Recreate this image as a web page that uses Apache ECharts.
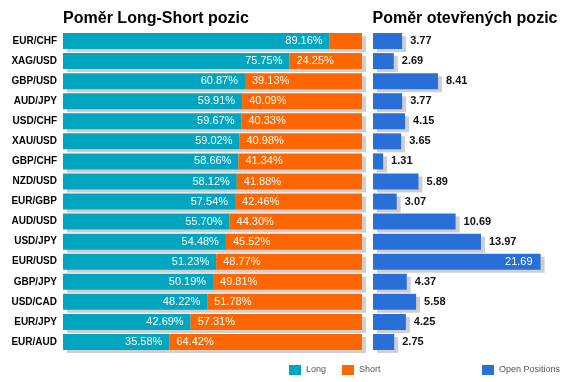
<!DOCTYPE html>
<html><head><meta charset="utf-8">
<script src="https://cdn.jsdelivr.net/npm/echarts@6/dist/echarts.min.js"></script>
<style>html,body{margin:0;padding:0;background:#fff}#c{width:571px;height:382px}</style>
</head><body><div id="c"></div>
<script>
const categories = ['EUR/CHF','XAG/USD','GBP/USD','AUD/JPY','USD/CHF','XAU/USD','GBP/CHF','NZD/USD','EUR/GBP','AUD/USD','USD/JPY','EUR/USD','GBP/JPY','USD/CAD','EUR/JPY','EUR/AUD'];
const longVals = [89.16,75.75,60.87,59.91,59.67,59.02,58.66,58.12,57.54,55.70,54.48,51.23,50.19,48.22,42.69,35.58];
const shortVals = [10.84,24.25,39.13,40.09,40.33,40.98,41.34,41.88,42.46,44.30,45.52,48.77,49.81,51.78,57.31,64.42];
const openVals = [3.77,2.69,8.41,3.77,4.15,3.65,1.31,5.89,3.07,10.69,13.97,21.69,4.37,5.58,4.25,2.75];

const FONT = '"Liberation Sans", Arial, sans-serif';
const shadow = {shadowColor:'#cfcfcf', shadowBlur:0, shadowOffsetX:4, shadowOffsetY:3};
const chart = echarts.init(document.getElementById('c'));
chart.setOption({
  backgroundColor:'#fff',
  animation:false,
  textStyle:{fontFamily:FONT},
  title:[
    {text:'Poměr Long-Short pozic', left:151, top:6, textAlign:'center', textStyle:{fontSize:16,fontWeight:'bold',color:'#000',fontFamily:FONT}},
    {text:'Poměr otevřených pozic', left:460, top:6, textAlign:'center', textStyle:{fontSize:16,fontWeight:'bold',color:'#000',fontFamily:FONT}}
  ],
  legend:[
    {data:['Long','Short'], left:284, top:360, itemWidth:12, itemHeight:10, itemGap:16, icon:'rect', textStyle:{fontSize:9,color:'#555',fontFamily:FONT}},
    {data:['Open Positions'], left:477, top:360, itemWidth:12, itemHeight:10, icon:'rect', textStyle:{fontSize:9,color:'#555',fontFamily:FONT}}
  ],
  grid:[
    {left:63, right:209, top:31, height:321},
    {left:373, right:28, top:31, height:321}
  ],
  xAxis:[
    {gridIndex:0, type:'value', min:0, max:100, show:false},
    {gridIndex:1, type:'value', min:0, max:22, show:false}
  ],
  yAxis:[
    {gridIndex:0, type:'category', data:categories, inverse:true, axisLine:{show:false}, axisTick:{show:false},
     axisLabel:{fontSize:10, fontWeight:'bold', color:'#000', margin:6, fontFamily:FONT}},
    {gridIndex:1, type:'category', data:categories, inverse:true, show:false}
  ],
  series:[
    {name:'Long', type:'bar', stack:'ls', xAxisIndex:0, yAxisIndex:0, data:longVals, barWidth:16,
     itemStyle:Object.assign({color:'#00a5bf'}, shadow),
     label:{show:true, position:'insideRight', color:'#fff', fontSize:11, fontFamily:FONT, distance:7, formatter:p=>p.value.toFixed(2)+'%'}},
    {name:'Short', type:'bar', stack:'ls', xAxisIndex:0, yAxisIndex:0, data:shortVals, barWidth:16,
     itemStyle:Object.assign({color:'#ff6600'}, shadow),
     label:{show:true, position:'insideLeft', color:'#fff', fontSize:11, fontFamily:FONT, distance:7, formatter:p=>p.value<15?'':p.value.toFixed(2)+'%'}},
    {name:'Open Positions', type:'bar', xAxisIndex:1, yAxisIndex:1, barWidth:16,
     data:openVals.map(v=>v>20?{value:v,label:{position:'insideRight',color:'#fff',fontWeight:'normal'}}:v),
     itemStyle:Object.assign({color:'#2870d8'}, shadow),
     label:{show:true, position:'right', color:'#111', fontSize:11, fontWeight:'bold', distance:8, fontFamily:FONT, formatter:p=>p.value.toFixed(2)}}
  ]
});
</script></body></html>
